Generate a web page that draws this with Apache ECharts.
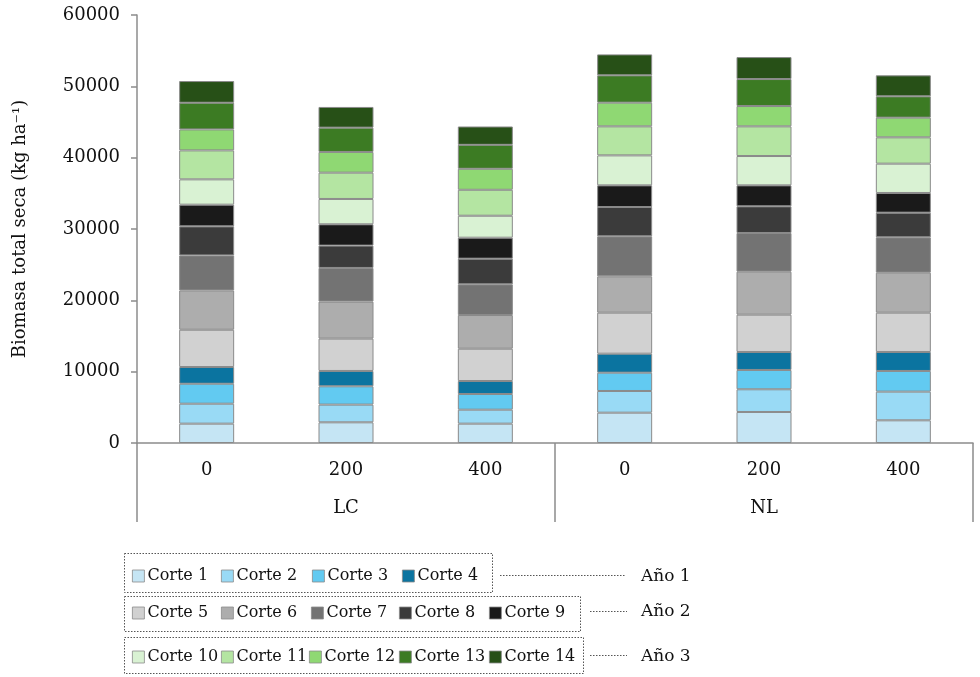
<!DOCTYPE html>
<html>
<head>
<meta charset="utf-8">
<script src="https://cdn.jsdelivr.net/npm/echarts@6/dist/echarts.min.js"></script>
<style>html,body{margin:0;padding:0;background:#fff}#c{width:980px;height:677px}</style>
</head>
<body>
<div id="c"></div>
<script>
const groups = ['LC', 'NL'];
const doses = ['0', '200', '400'];
const names = ['Corte 1','Corte 2','Corte 3','Corte 4','Corte 5','Corte 6','Corte 7','Corte 8','Corte 9','Corte 10','Corte 11','Corte 12','Corte 13','Corte 14'];
const yTicks = [0, 10000, 20000, 30000, 40000, 50000, 60000];
const c1  = [2710, 2900, 2710, 4250, 4350, 3180];
const c2  = [2800, 2480, 1960, 3040, 3180, 4020];
const c3  = [2800, 2570, 2200, 2570, 2710, 2900];
const c4  = [2340, 2150, 1820, 2660, 2520, 2660];
const c5  = [5230, 4530, 4530, 5750, 5230, 5510];
const c6  = [5510, 5190, 4720, 5090, 6030, 5610];
const c7  = [4910, 4720, 4300, 5610, 5420, 4950];
const c8  = [4070, 3130, 3600, 4110, 3740, 3460];
const c9  = [3040, 2990, 2940, 3040, 2940, 2760];
const c10 = [3550, 3550, 3080, 4200, 4110, 4110];
const c11 = [4060, 3690, 3640, 4070, 4160, 3690];
const c12 = [2940, 2900, 2940, 3320, 2850, 2760];
const c13 = [3740, 3410, 3360, 3830, 3780, 2990];
const c14 = [3040, 2900, 2570, 2940, 3080, 2940];
const values = [c1,c2,c3,c4,c5,c6,c7,c8,c9,c10,c11,c12,c13,c14];
const colors = ['#c5e5f4','#99daf5','#62caf1','#0b74a0','#d1d1d1','#adadad','#737373','#3b3b3b','#1a1a1a','#d9f2d3','#b4e5a2','#8fd873','#3c7b23','#275017'];
const yearLabels = ['Año 1', 'Año 2', 'Año 3'];

const cats = [];
groups.forEach(g => doses.forEach(d => cats.push(g + '|' + d)));

const FONT = 'DejaVu Serif';
const AX = '#8c8c8c';

const series = names.map((n, i) => ({
  name: n, type: 'bar', stack: 'total', barWidth: 55,
  data: values[i],
  itemStyle: { color: colors[i], borderColor: '#8a8a8a', borderWidth: 1 },
  emphasis: { disabled: true }
}));

// legend layout: rows of items (index into names), with x positions and row top
const legendRows = [
  { items: [0,1,2,3],      xs: [132,221,312,402],      top: 568 },
  { items: [4,5,6,7,8],    xs: [132,221,311,399,489],  top: 605 },
  { items: [9,10,11,12,13],xs: [132,221,309,399,489],  top: 649 }
];
const legends = [];
legendRows.forEach(r => r.items.forEach((idx, k) => {
  legends.push({
    data: [names[idx]], left: r.xs[k], top: r.top, padding: 0,
    itemWidth: 12, itemHeight: 12, icon: 'rect', selectedMode: false,
    itemStyle: { borderWidth: 0.8 },
    textStyle: { fontFamily: FONT, fontSize: 16, color: '#111', padding: [0,0,0,-2] }
  });
}));

const chart = echarts.init(document.getElementById('c'));
chart.setOption({
  animation: false,
  backgroundColor: '#fff',
  grid: { left: 137, right: 7, top: 15, bottom: 234 },
  legend: legends,
  xAxis: [
    {
      type: 'category', data: cats, position: 'bottom',
      axisLine: { show: true, lineStyle: { color: AX, width: 1.5 } },
      axisTick: { show: false },
      axisLabel: { fontFamily: FONT, fontSize: 18, color: '#111', margin: 18,
        formatter: v => v.split('|')[1] }
    },
    {
      type: 'category', data: groups, position: 'bottom', offset: 79,
      axisLine: { show: false },
      axisTick: { show: true, inside: true, length: 79, lineStyle: { color: AX, width: 1.5 } },
      axisLabel: { inside: true, margin: 5, fontFamily: FONT, fontSize: 18, color: '#111' }
    }
  ],
  yAxis: {
    type: 'value', min: yTicks[0], max: yTicks[yTicks.length - 1], interval: yTicks[1] - yTicks[0],
    name: 'Biomasa total seca (kg ha⁻¹)', nameLocation: 'middle', nameGap: 108, nameRotate: 90,
    nameTextStyle: { fontFamily: FONT, fontSize: 18, color: '#111' },
    axisLine: { show: true, lineStyle: { color: AX, width: 1.5 } },
    axisTick: { show: true, length: 6, lineStyle: { color: AX, width: 1.5 } },
    axisLabel: { fontFamily: FONT, fontSize: 18, color: '#111', margin: 17, formatter: v => String(v) },
    splitLine: { show: false }
  },
  series: series,
  graphic: [
    { type: 'rect', shape: { x: 124.5, y: 553.5, width: 368, height: 39 }, style: { fill: 'none', stroke: '#555', lineWidth: 1, lineDash: [1.5, 1.5] } },
    { type: 'rect', shape: { x: 124.5, y: 596.5, width: 456, height: 35 }, style: { fill: 'none', stroke: '#555', lineWidth: 1, lineDash: [1.5, 1.5] } },
    { type: 'rect', shape: { x: 124.5, y: 637.5, width: 459, height: 36 }, style: { fill: 'none', stroke: '#555', lineWidth: 1, lineDash: [1.5, 1.5] } },
    { type: 'line', shape: { x1: 500, y1: 575.5, x2: 625, y2: 575.5 }, style: { stroke: '#555', lineWidth: 1, lineDash: [1.5, 1.5] } },
    { type: 'line', shape: { x1: 590, y1: 611.5, x2: 627, y2: 611.5 }, style: { stroke: '#555', lineWidth: 1, lineDash: [1.5, 1.5] } },
    { type: 'line', shape: { x1: 590, y1: 655.5, x2: 627, y2: 655.5 }, style: { stroke: '#555', lineWidth: 1, lineDash: [1.5, 1.5] } },
    { type: 'text', x: 641, y: 577, style: { text: yearLabels[0], fontFamily: FONT, fontSize: 17, fill: '#111', verticalAlign: 'middle' } },
    { type: 'text', x: 641, y: 612, style: { text: yearLabels[1], fontFamily: FONT, fontSize: 17, fill: '#111', verticalAlign: 'middle' } },
    { type: 'text', x: 641, y: 657, style: { text: yearLabels[2], fontFamily: FONT, fontSize: 17, fill: '#111', verticalAlign: 'middle' } }
  ]
});
</script>
</body>
</html>
